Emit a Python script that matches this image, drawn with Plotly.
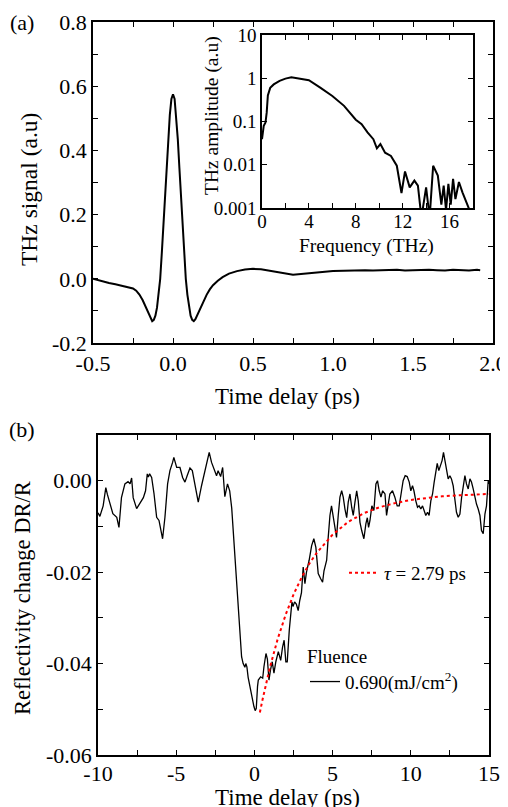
import plotly.graph_objects as go

# ---------------- data: panel (a) main THz waveform ----------------
thz_t = [-0.50, -0.45, -0.40, -0.36, -0.32, -0.28, -0.25, -0.23, -0.21, -0.19, -0.17,
         -0.15, -0.14, -0.13, -0.12, -0.11, -0.10, -0.09, -0.08, -0.07, -0.06, -0.05,
         -0.04, -0.03, -0.02, -0.01, 0.00, 0.01, 0.02, 0.03, 0.04, 0.05, 0.06, 0.07,
         0.08, 0.09, 0.10, 0.11, 0.12, 0.13, 0.14, 0.15, 0.17, 0.19, 0.21, 0.23, 0.25,
         0.28, 0.31, 0.35, 0.40, 0.45, 0.50, 0.55, 0.60, 0.65, 0.70, 0.75, 0.80, 0.85,
         0.90, 0.95, 1.00, 1.05, 1.10, 1.15, 1.20, 1.25, 1.30, 1.35, 1.40, 1.45, 1.50,
         1.55, 1.60, 1.65, 1.70, 1.75, 1.80, 1.85, 1.90, 1.92]
thz_sig = [0.000, -0.007, -0.013, -0.017, -0.022, -0.026, -0.030, -0.037, -0.049, -0.066, -0.088,
           -0.112, -0.125, -0.132, -0.128, -0.115, -0.090, -0.050, 0.000, 0.080, 0.170, 0.260,
           0.350, 0.440, 0.510, 0.560, 0.575, 0.560, 0.505, 0.435, 0.345, 0.255, 0.165, 0.075,
           0.000, -0.050, -0.090, -0.115, -0.128, -0.132, -0.126, -0.115, -0.092, -0.070, -0.050, -0.033, -0.020,
           -0.006, 0.005, 0.016, 0.024, 0.029, 0.031, 0.030, 0.026, 0.021, 0.016, 0.013, 0.015, 0.018,
           0.020, 0.022, 0.024, 0.025, 0.026, 0.025, 0.027, 0.026, 0.027, 0.026, 0.028, 0.026, 0.027,
           0.026, 0.028, 0.027, 0.026, 0.028, 0.027, 0.026, 0.028, 0.027]

# ---------------- data: panel (a) inset spectrum ----------------
spec_f = [0.0, 0.15, 0.3, 0.4, 0.5, 0.7, 1.0, 1.5, 2.0, 2.5, 3.0, 3.5, 4.0, 5.0, 6.0, 7.0,
          8.0, 8.5, 9.0, 9.5, 9.8, 10.1, 10.5, 11.0, 11.5, 11.9, 12.2, 12.6, 13.0, 13.3,
          13.6, 14.0, 14.3, 14.6, 15.0, 15.3, 15.5, 15.7, 15.9, 16.1, 16.3, 16.5, 16.8,
          17.1, 17.4, 17.7]
spec_amp = [0.039, 0.08, 0.095, 0.16, 0.40, 0.60, 0.72, 0.87, 0.98, 1.05, 1.00, 0.95, 0.90, 0.60,
            0.39, 0.23, 0.11, 0.087, 0.056, 0.039, 0.024, 0.030, 0.019, 0.016, 0.0095, 0.0022,
            0.007, 0.003, 0.0043, 0.0033, 0.0006, 0.003, 0.0006, 0.0095, 0.0056, 0.0012, 0.0033,
            0.0009, 0.0036, 0.0012, 0.0047, 0.0016, 0.0040, 0.0023, 0.0014, 0.0009]

# ---------------- data: panel (b) reflectivity change ----------------
dr_t = [-10.0, -9.88, -9.67, -9.50, -9.40, -9.20, -9.05, -8.80, -8.66, -8.50, -8.28, -8.08,
        -7.95, -7.85, -7.75, -7.53, -7.32, -7.10, -6.96, -6.85, -6.78, -6.70, -6.57, -6.42,
        -6.25, -6.10, -5.87, -5.72, -5.55, -5.40, -5.23, -5.15, -4.97, -4.76, -4.59, -4.44,
        -4.30, -4.12, -3.97, -3.80, -3.59, -3.38, -3.16, -3.02, -2.89, -2.74, -2.59, -2.42,
        -2.32, -2.16, -2.03, -1.89, -1.72, -1.58, -1.45, -1.36, -1.25, -1.14, -1.05, -0.97,
        -0.90, -0.82, -0.72, -0.61, -0.55, -0.48, -0.40, -0.33, -0.25, -0.18, -0.10, -0.03,
        0.05, 0.12, 0.20, 0.25, 0.40, 0.53, 0.61, 0.74, 0.83, 0.93, 1.03, 1.14, 1.25, 1.37,
        1.53, 1.68, 1.80, 1.90, 2.01, 2.10, 2.23, 2.32, 2.40, 2.47, 2.57, 2.68, 2.80, 2.90,
        3.01, 3.12, 3.23, 3.33, 3.50, 3.66, 3.80, 3.93, 4.08, 4.23, 4.36, 4.45, 4.62, 4.72,
        4.83, 4.93, 5.04, 5.15, 5.25, 5.36, 5.47, 5.58, 5.68, 5.79, 5.90, 6.00, 6.11, 6.22,
        6.32, 6.43, 6.54, 6.64, 6.75, 6.86, 7.00, 7.13, 7.22, 7.30, 7.39, 7.51, 7.64, 7.77,
        7.87, 7.98, 8.09, 8.20, 8.35, 8.45, 8.56, 8.66, 8.83, 8.98, 9.13, 9.26, 9.41, 9.51,
        9.64, 9.77, 9.90, 10.00, 10.11, 10.20, 10.32, 10.43, 10.53, 10.64, 10.75, 10.85,
        10.96, 11.07, 11.17, 11.28, 11.39, 11.49, 11.60, 11.69, 11.79, 11.90, 12.00, 12.09,
        12.20, 12.28, 12.39, 12.50, 12.60, 12.71, 12.82, 12.92, 13.03, 13.14, 13.25, 13.35,
        13.46, 13.56, 13.67, 13.78, 13.88, 13.99, 14.10, 14.20, 14.31, 14.42, 14.52, 14.63,
        14.74, 14.84, 14.95, 15.00]
dr_val = [-0.0070, -0.0078, -0.0055, -0.0015, -0.0030, -0.0055, -0.0072, -0.0080, -0.0102, -0.0037, -0.0007, -0.0002,
          -0.0007, 0.0006, -0.0037, -0.0061, -0.0048, -0.0037, -0.0022, 0.0015, 0.0008, 0.0015, 0.0007, -0.0028,
          -0.0080, -0.0087, -0.0127, -0.0080, -0.0007, 0.0022, 0.0040, 0.0051, 0.0029, 0.0029, 0.0007, -0.0003,
          0.0011, 0.0028, 0.0022, -0.0011, -0.0047, -0.0011, 0.0022, 0.0040, 0.0062, 0.0040, 0.0024, 0.0011,
          0.0022, 0.0009, 0.0029, -0.0035, -0.0007, -0.0022, -0.0060, -0.0109, -0.0160, -0.0220, -0.0270, -0.0313,
          -0.0350, -0.0385, -0.0400, -0.0408, -0.0400, -0.0407, -0.0430, -0.0443, -0.0460, -0.0473, -0.0480, -0.0494,
          -0.0503, -0.0498, -0.0450, -0.0436, -0.0429, -0.0432, -0.0407, -0.0378, -0.0390, -0.0436, -0.0414, -0.0396, -0.0421, -0.0396,
          -0.0374, -0.0393, -0.0364, -0.0349, -0.0396, -0.0396, -0.0327, -0.0284, -0.0265, -0.0275, -0.0265, -0.0270, -0.0284, -0.0262,
          -0.0245, -0.0189, -0.0225, -0.0200, -0.0174, -0.0142, -0.0127, -0.0146, -0.0203, -0.0214, -0.0222, -0.0197, -0.0174, -0.0124,
          -0.0076, -0.0055, -0.0081, -0.0109, -0.0124, -0.0076, -0.0036, -0.0022, -0.0036, -0.0062, -0.0081, -0.0047, -0.0029, -0.0058,
          -0.0076, -0.0047, -0.0022, -0.0044, -0.0091, -0.0109, -0.0127, -0.0094, -0.0081, -0.0102, -0.0087, -0.0055, -0.0065, -0.0007,
          0.0000, -0.0022, -0.0036, -0.0022, -0.0029, -0.0076, -0.0051, -0.0029, -0.0022, -0.0036, -0.0055, -0.0055, -0.0022, 0.0000,
          0.0011, 0.0009, -0.0003, -0.0022, -0.0011, -0.0022, -0.0044, -0.0058, -0.0055, -0.0062, -0.0055, -0.0065,
          -0.0076, -0.0069, -0.0076, -0.0044, -0.0029, -0.0004, 0.0022, 0.0038, 0.0022, 0.0035, 0.0044, 0.0062,
          0.0040, 0.0025, 0.0004, 0.0011, 0.0004, -0.0011, -0.0040, -0.0069, -0.0080, -0.0073, -0.0036, -0.0007,
          0.0011, -0.0007, -0.0018, 0.0004, -0.0003, -0.0018, -0.0036, -0.0051, -0.0062, -0.0076, -0.0109, -0.0116,
          -0.0073, -0.0055, 0.0000, -0.0007]

# exponential fit curve (tau = 2.79 ps)
fit_t = [0.35, 0.5, 1.0, 1.5, 2.0, 2.5, 3.0, 3.5, 4.0, 5.0, 6.0, 7.0, 8.0, 9.0, 10.0,
         11.0, 12.0, 13.0, 14.0, 15.0]
fit_val = [-0.0507, -0.0482, -0.0407, -0.0345, -0.0293, -0.0249, -0.0213, -0.0182, -0.0157,
           -0.0118, -0.0090, -0.0071, -0.0058, -0.0049, -0.0042, -0.0038, -0.0034, -0.0032,
           -0.0031, -0.0029]

# ---------------- tick labels ----------------
a_xtick_vals = [-0.5, -0.25, 0.0, 0.25, 0.5, 0.75, 1.0, 1.25, 1.5, 1.75, 2.0]
a_xtick_text = ["-0.5", " ", "0.0", " ", "0.5", " ", "1.0", " ", "1.5", " ", "2.0"]
a_ytick_vals = [-0.2, -0.1, 0.0, 0.1, 0.2, 0.3, 0.4, 0.5, 0.6, 0.7, 0.8]
a_ytick_text = ["-0.2", " ", "0.0", " ", "0.2", " ", "0.4", " ", "0.6", " ", "0.8"]
in_xtick_vals = [0, 2, 4, 6, 8, 10, 12, 14, 16, 18]
in_xtick_text = ["0", " ", "4", " ", "8", " ", "12", " ", "16", " "]
in_ytick_vals = [0.001, 0.01, 0.1, 1, 10]
in_ytick_text = ["0.001", "0.01", "0.1", "1", "10"]
b_xtick_vals = [-10, -7.5, -5, -2.5, 0, 2.5, 5, 7.5, 10, 12.5, 15]
b_xtick_text = ["-10", " ", "-5", " ", "0", " ", "5", " ", "10", " ", "15"]
b_ytick_vals = [-0.06, -0.05, -0.04, -0.03, -0.02, -0.01, 0.00, 0.01]
b_ytick_text = ["-0.06", " ", "-0.04", " ", "-0.02", " ", "0.00", " "]

FONT = "Liberation Serif"
OFF = 8                      # default page body margin in the browser
W, H = 508 - OFF, 807 - OFF  # figure fits the window exactly after the margin


def px(x):
    return (x - OFF) / W


def py(y):
    return 1 - (y - OFF) / H


fig = go.Figure()

fig.add_trace(go.Scatter(x=thz_t, y=thz_sig, mode="lines", line=dict(color="black", width=2),
                         xaxis="x", yaxis="y", showlegend=False))
fig.add_trace(go.Scatter(x=spec_f, y=spec_amp, mode="lines", line=dict(color="black", width=2),
                         xaxis="x2", yaxis="y2", showlegend=False))
fig.add_trace(go.Scatter(x=dr_t, y=dr_val, mode="lines", line=dict(color="black", width=1.3),
                         xaxis="x3", yaxis="y3", name="0.690(mJ/cm<sup>2</sup>)", legend="legend"))
fig.add_trace(go.Scatter(x=fit_t, y=fit_val, mode="lines", line=dict(color="red", width=2, dash="dot"),
                         xaxis="x3", yaxis="y3", name="<i>τ</i> = 2.79 ps", legend="legend2"))

common = dict(showline=True, linecolor="black", linewidth=1.5, mirror="allticks",
              ticks="inside", ticklen=5, tickwidth=1, tickcolor="black",
              showgrid=False, zeroline=False, tickmode="array", automargin=False)


def label(text, x, y, size, angle=0):
    return dict(text=text, x=px(x), y=py(y), xref="paper", yref="paper", xanchor="center",
                yanchor="middle", showarrow=False, textangle=angle, font=dict(size=size))


fig.update_layout(
    width=W, height=H,
    margin=dict(l=0, r=0, t=0, b=0, autoexpand=False),
    paper_bgcolor="white", plot_bgcolor="white",
    font=dict(family=FONT, color="black", size=22),
    xaxis=dict(domain=[px(93), px(493)], range=[-0.5, 2.0], anchor="y",
               tickvals=a_xtick_vals, ticktext=a_xtick_text, tickfont=dict(size=22), **common),
    yaxis=dict(domain=[py(343), py(22)], range=[-0.2, 0.8], anchor="x",
               tickvals=a_ytick_vals, ticktext=a_ytick_text, tickfont=dict(size=22), **common),
    xaxis2=dict(domain=[px(262), px(473)], range=[0, 18], anchor="y2",
                tickvals=in_xtick_vals, ticktext=in_xtick_text, tickfont=dict(size=19),
                ticklabelstandoff=-5, **common),
    yaxis2=dict(domain=[py(208), py(35)], type="log", range=[-3, 1], anchor="x2",
                tickvals=in_ytick_vals, ticktext=in_ytick_text, tickfont=dict(size=19), **common),
    xaxis3=dict(domain=[px(98), px(489)], range=[-10, 15], anchor="y3",
                tickvals=b_xtick_vals, ticktext=b_xtick_text, tickfont=dict(size=22),
                ticklabelstandoff=-2, **common),
    yaxis3=dict(domain=[py(755), py(435)], range=[-0.06, 0.01], anchor="x3",
                tickvals=b_ytick_vals, ticktext=b_ytick_text, tickfont=dict(size=22), **common),
    legend=dict(x=px(305), y=py(638), xanchor="left", yanchor="top",
                bgcolor="rgba(0,0,0,0)", borderwidth=0, itemwidth=30,
                font=dict(family=FONT, size=19),
                title=dict(text="Fluence", font=dict(family=FONT, size=19), side="top")),
    legend2=dict(x=px(344), y=py(554), xanchor="left", yanchor="top",
                 bgcolor="rgba(0,0,0,0)", borderwidth=0, itemwidth=30,
                 font=dict(family=FONT, size=19)),
    annotations=[
        label("(a)", 22, 22, 22),
        label("(b)", 22, 430, 22),
        label("Time delay (ps)", 287, 396, 23),
        label("THz signal (a.u)", 29, 190, 23.5, -90),
        label("Frequency (THz)", 366, 246, 19.5),
        label("THz amplitude (a.u)", 212, 116, 19.5, -90),
        label("Time delay (ps)", 287, 797, 23),
        label("Reflectivity change DR/R", 22, 598, 22.5, -90),
    ],
)

fig.write_html("out.html")
